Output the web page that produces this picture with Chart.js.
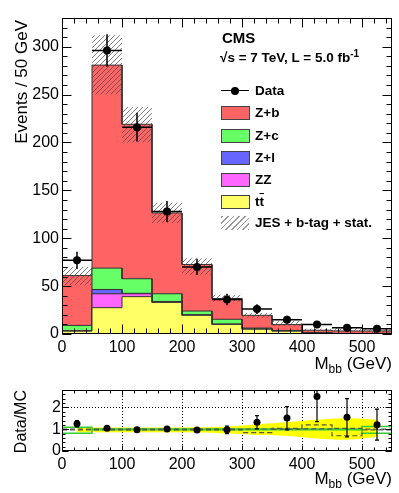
<!DOCTYPE html>
<html><head><meta charset="utf-8">
<script src="https://cdn.jsdelivr.net/npm/chart.js@4/dist/chart.umd.min.js"></script>
<style>
html,body{margin:0;padding:0;background:#fff;}
body{width:399px;height:493px;overflow:hidden;font-family:"Liberation Sans",Arial,sans-serif;color:#000;}
#wrap{position:relative;width:399px;height:493px;}
canvas{position:absolute;left:0;}
#c1{top:0;}
#c2{top:370px;}
.t{position:absolute;white-space:nowrap;}
.lg{position:absolute;left:255px;font-weight:bold;font-size:13.5px;line-height:14px;}
.sw{position:absolute;left:221px;width:27px;height:12px;border:1px solid #444;}
.ytitle{position:absolute;transform-origin:0 0;transform:rotate(-90deg) translateX(-100%);font-size:17px;line-height:17px;white-space:nowrap;}
.xtitle{position:absolute;font-size:17px;line-height:17px;white-space:nowrap;text-align:right;}
.xtitle sub{font-size:12px;vertical-align:-4px;line-height:0;}
</style></head><body>
<div id="wrap">
<canvas id="c1" width="399" height="370"></canvas>
<canvas id="c2" width="399" height="123"></canvas>

<div class="t" style="left:222px;top:30px;font-weight:bold;font-size:15px;line-height:16px;">CMS</div>
<div class="t" style="left:220px;top:50px;font-weight:bold;font-size:13.5px;line-height:16px;">&#8730;s = 7 TeV, L = 5.0 fb<sup style="font-size:10px;vertical-align:5px;line-height:0;">-1</sup></div>

<div style="position:absolute;left:221px;top:90px;width:28px;height:1px;background:#000;"></div>
<div style="position:absolute;left:231px;top:87px;width:8px;height:8px;border-radius:50%;background:#000;"></div>
<div class="lg" style="top:84px;">Data</div>
<div class="sw" style="top:106px;background:#ff6464;"></div><div class="lg" style="top:106px;">Z+b</div>
<div class="sw" style="top:129px;background:#66ff66;"></div><div class="lg" style="top:129px;">Z+c</div>
<div class="sw" style="top:151px;background:#6666ff;"></div><div class="lg" style="top:151px;">Z+l</div>
<div class="sw" style="top:173px;background:#ff66ff;"></div><div class="lg" style="top:173px;">ZZ</div>
<div class="sw" style="top:195px;background:#ffff66;"></div><div class="lg" style="top:195px;">t<span style="text-decoration:overline;">t</span></div>
<div class="sw" style="top:216px;border:none;width:28px;height:14px;background:repeating-linear-gradient(-45deg,#999 0 1px,transparent 1px 4px);"></div><div class="lg" style="top:216px;">JES + b-tag + stat.</div>

<div class="ytitle" style="left:13px;top:20px;">Events / 50 GeV</div>
<div class="ytitle" style="left:13px;top:390px;font-size:16px;line-height:16px;">Data/MC</div>
<div class="xtitle" style="right:7px;top:355px;">M<sub>bb</sub> (GeV)</div>
<div class="xtitle" style="right:7px;top:470px;">M<sub>bb</sub> (GeV)</div>
</div>

<script>
// ---- data ----
const binEdges   = [0,50,100,150,200,250,300,350,400,450,500,550];
const binCenters = [25,75,125,175,225,275,325,375,425,475,525];
const xTickLabels = [0,100,200,300,400,500];
const dataCounts = [77,296,216,128,70,36,26,15,10,6.5,5.6];
const dataErr    = [9,17,15,11,8.5,6,5,4,3,2.5,2.4];
const ttbar = [3,27.5,39,33,19.5,10,5,3,1,0.5,0.5];
const zz    = [0.3,14.5,3,0.5,0.3,0.2,0.1,0.1,0,0,0];
const zl    = [0.3,4.5,0.5,0.5,0.3,0.2,0.1,0.1,0.1,0,0];
const zc    = [5.4,22.3,15.2,8,3.9,5,1,0.5,0.3,0.2,0.2];
const zb    = [52,212,161.3,84.4,48.6,21.6,13.3,6.1,2.5,2.5,2.5];
const uncLo = [51,250,200,116,62,34,17,8.3,2.5,3,1.5];
const uncHi = [70,312,237,137,79,41,22,13.5,5.5,7.3,5];
// ratio panel
const ratio      = [1.25,1.05,0.98,1.01,0.96,0.97,1.32,1.52,2.5,1.55,1.2];
const ratioErrLo = [0.14,0.06,0.07,0.09,0.11,0.17,0.3,0.55,1.15,0.9,0.7];
const ratioErrHi = [0.14,0.06,0.07,0.09,0.11,0.17,0.3,0.52,1.2,0.85,0.72];
const bandHi = [1.08,1.08,1.08,1.08,1.09,1.13,1.22,1.32,1.43,1.5,1.43];
const bandLo = [0.86,0.86,0.86,0.86,0.85,0.8,0.74,0.7,0.57,0.52,0.64];
const greenHi = [1.09,1.01,1.01,1.01,1.01,1.01,1.01,1.01,1.01,1.01,1.12];
const greenLo = [0.82,0.97,0.97,0.97,0.97,0.97,0.97,0.97,0.97,0.97,0.82];
const jesUp   = [1.0,1.0,1.0,1.0,1.0,1.0,1.01,1.04,1.2,1.04,1.0];
const jesDown = [0.97,0.97,0.97,0.97,0.97,0.97,0.84,1.0,1.02,0.7,0.97];

// ---- helpers ----
function stepPts(vals){const p=[];vals.forEach((v,i)=>{p.push({x:binEdges[i],y:v});p.push({x:binEdges[i+1],y:v});});return p;}
function ptPts(vals){return vals.map((v,i)=>({x:binCenters[i],y:v}));}
function cum(...arrs){return arrs[0].map((_,i)=>arrs.reduce((s,a)=>s+a[i],0));}
function range(a,b,s){const r=[];for(let v=a;v<=b+1e-9;v+=s)r.push(+v.toFixed(6));return r;}

Chart.defaults.font.family='"Liberation Sans", Arial, sans-serif';
Chart.defaults.color='#000';

const rootAxes={
  id:'rootAxes',
  beforeDatasetsDraw(chart,args,o){
    if(!o.xGrid) return;
    const {ctx,chartArea:a,scales:{x,y}}=chart;
    ctx.save();ctx.strokeStyle='#000';ctx.lineWidth=1;ctx.setLineDash([1,2]);
    o.xGrid.forEach(v=>{const p=Math.round(x.getPixelForValue(v))+0.5;ctx.beginPath();ctx.moveTo(p,a.top);ctx.lineTo(p,a.bottom);ctx.stroke();});
    o.yGrid.forEach(v=>{const p=Math.round(y.getPixelForValue(v))+0.5;ctx.beginPath();ctx.moveTo(a.left,p);ctx.lineTo(a.right,p);ctx.stroke();});
    ctx.restore();
  },
  afterDatasetsDraw(chart,args,o){
    const {ctx,chartArea:a,scales:{x,y}}=chart;
    ctx.save();ctx.beginPath();ctx.rect(a.left,a.top,a.width,a.height);ctx.clip();
    ctx.strokeStyle='#000';ctx.lineWidth=o.errWidth;
    o.errY.forEach((v,i)=>{
      const cx=binCenters[i];const px=x.getPixelForValue(cx),py=y.getPixelForValue(v);
      const t=y.getPixelForValue(v+o.errHi[i]),b=y.getPixelForValue(v-o.errLo[i]);
      ctx.beginPath();ctx.moveTo(px,t);ctx.lineTo(px,b);
      if(o.xHalf){ctx.moveTo(x.getPixelForValue(cx-o.xHalf),py);ctx.lineTo(x.getPixelForValue(cx+o.xHalf),py);}
      if(o.cap){ctx.moveTo(px-o.cap,t);ctx.lineTo(px+o.cap,t);ctx.moveTo(px-o.cap,b);ctx.lineTo(px+o.cap,b);}
      ctx.stroke();
    });
    ctx.restore();
    ctx.save();ctx.strokeStyle='#000';ctx.lineWidth=1;
    const L=a.left+0.5,R=a.right-0.5,T=a.top+0.5,B=a.bottom-0.5;
    ctx.strokeRect(L,T,R-L,B-T);
    ctx.beginPath();
    const tx=(vals,len)=>vals.forEach(v=>{const p=Math.round(x.getPixelForValue(v))+0.5;ctx.moveTo(p,B);ctx.lineTo(p,B-len);ctx.moveTo(p,T);ctx.lineTo(p,T+len);});
    const ty=(vals,len)=>vals.forEach(v=>{const p=Math.round(y.getPixelForValue(v))+0.5;ctx.moveTo(L,p);ctx.lineTo(L+len,p);ctx.moveTo(R,p);ctx.lineTo(R-len,p);});
    tx(o.xMinor,o.xMin);tx(o.xMajor,o.xMaj);ty(o.yMinor,o.yMin);ty(o.yMajor,o.yMaj);
    ctx.stroke();ctx.restore();
  }
};

function hatchPattern(ctx){
  const c=document.createElement('canvas');c.width=5;c.height=5;
  const g=c.getContext('2d');g.strokeStyle='rgba(70,70,70,0.85)';g.lineWidth=0.8;
  g.beginPath();g.moveTo(0,5);g.lineTo(5,0);g.moveTo(-1,1);g.lineTo(1,-1);g.moveTo(4,6);g.lineTo(6,4);g.stroke();
  return ctx.createPattern(c,'repeat');
}

const fontTick={size:16};
const ctx1=document.getElementById('c1').getContext('2d');
const hatch=hatchPattern(ctx1);

const layer=(vals,color)=>({data:stepPts(vals),backgroundColor:color,borderColor:'#333',borderWidth:1,fill:'origin',pointRadius:0,tension:0});

new Chart(ctx1,{
  type:'line',
  data:{datasets:[
    {data:ptPts(dataCounts),showLine:false,pointRadius:4,pointBackgroundColor:'#000',pointBorderWidth:0,borderColor:'#000'},
    {data:stepPts(uncHi),fill:'+1',backgroundColor:hatch,borderWidth:0,pointRadius:0},
    {data:stepPts(uncLo),fill:false,borderWidth:0,pointRadius:0},
    layer(ttbar,'#ffff66'),
    layer(cum(ttbar,zz),'#ff66ff'),
    layer(cum(ttbar,zz,zl),'#6666ff'),
    layer(cum(ttbar,zz,zl,zc),'#66ff66'),
    layer(cum(ttbar,zz,zl,zc,zb),'#ff6464')
  ]},
  options:{
    responsive:false,animation:false,
    layout:{padding:{top:18,right:7,left:0,bottom:0}},
    plugins:{legend:{display:false},tooltip:{enabled:false},
      rootAxes:{errY:dataCounts,errLo:dataErr,errHi:dataErr,xHalf:25,errWidth:1.5,
        xMajor:range(0,500,100),xMinor:range(0,540,20),yMajor:range(0,300,50),yMinor:range(0,330,10),
        xMaj:9,xMin:5,yMaj:9,yMin:5}},
    scales:{
      x:{type:'linear',min:0,max:550,grid:{display:false,drawTicks:false},border:{display:false},
        ticks:{stepSize:100,autoSkip:false,maxRotation:0,padding:4,font:fontTick},
        afterBuildTicks:s=>{s.ticks=xTickLabels.map(v=>({value:v}));},
        afterFit:s=>{s.height=36;}},
      y:{min:0,max:330,grid:{display:false,drawTicks:false},border:{display:false},
        ticks:{stepSize:50,padding:3,font:fontTick},
        afterBuildTicks:s=>{s.ticks=s.ticks.filter(t=>t.value%50===0);},
        afterFit:s=>{s.width=62;}}
    }
  },
  plugins:[rootAxes]
});

const ctx2=document.getElementById('c2').getContext('2d');
const stepLine=(vals,color,w,dash)=>({data:stepPts(vals),borderColor:color,borderWidth:w,borderDash:dash||[],fill:false,pointRadius:0,tension:0});
new Chart(ctx2,{
  type:'line',
  data:{datasets:[
    {data:ptPts(ratio),showLine:false,pointRadius:3.5,pointBackgroundColor:'#000',pointBorderWidth:0,borderColor:'#000'},
    stepLine(jesUp,'#555',1.2,[5,3]),
    stepLine(jesDown,'#555',1.2,[5,3]),
    stepLine(greenHi,'#33cc33',1.5),
    stepLine(greenLo,'#33cc33',1.5),
    {data:ptPts(bandHi),fill:'+1',backgroundColor:'#ffff00',borderWidth:0,pointRadius:0,tension:0.4},
    {data:ptPts(bandLo),fill:false,borderWidth:0,pointRadius:0,tension:0.4}
  ]},
  options:{
    responsive:false,animation:false,
    layout:{padding:{top:20,right:7,left:0,bottom:0}},
    plugins:{legend:{display:false},tooltip:{enabled:false},
      rootAxes:{errY:ratio,errLo:ratioErrLo,errHi:ratioErrHi,xHalf:0,cap:2,errWidth:1.2,
        xGrid:range(100,500,100),yGrid:[1,2],
        xMajor:range(0,500,100),xMinor:range(0,540,20),yMajor:[0,1,2],yMinor:range(0,2.8,0.2),
        xMaj:5,xMin:3,yMaj:6,yMin:3}},
    scales:{
      x:{type:'linear',min:0,max:550,grid:{display:false,drawTicks:false},border:{display:false},
        ticks:{stepSize:100,autoSkip:false,maxRotation:0,padding:4,font:fontTick},
        afterBuildTicks:s=>{s.ticks=xTickLabels.map(v=>({value:v}));},
        afterFit:s=>{s.height=42;}},
      y:{min:0,max:2.8,grid:{display:false,drawTicks:false},border:{display:false},
        ticks:{stepSize:1,padding:1,font:fontTick},
        afterBuildTicks:s=>{s.ticks=s.ticks.filter(t=>Math.abs(t.value-Math.round(t.value))<1e-6);},
        afterFit:s=>{s.width=62;}}
    }
  },
  plugins:[rootAxes]
});
</script>
</body></html>
